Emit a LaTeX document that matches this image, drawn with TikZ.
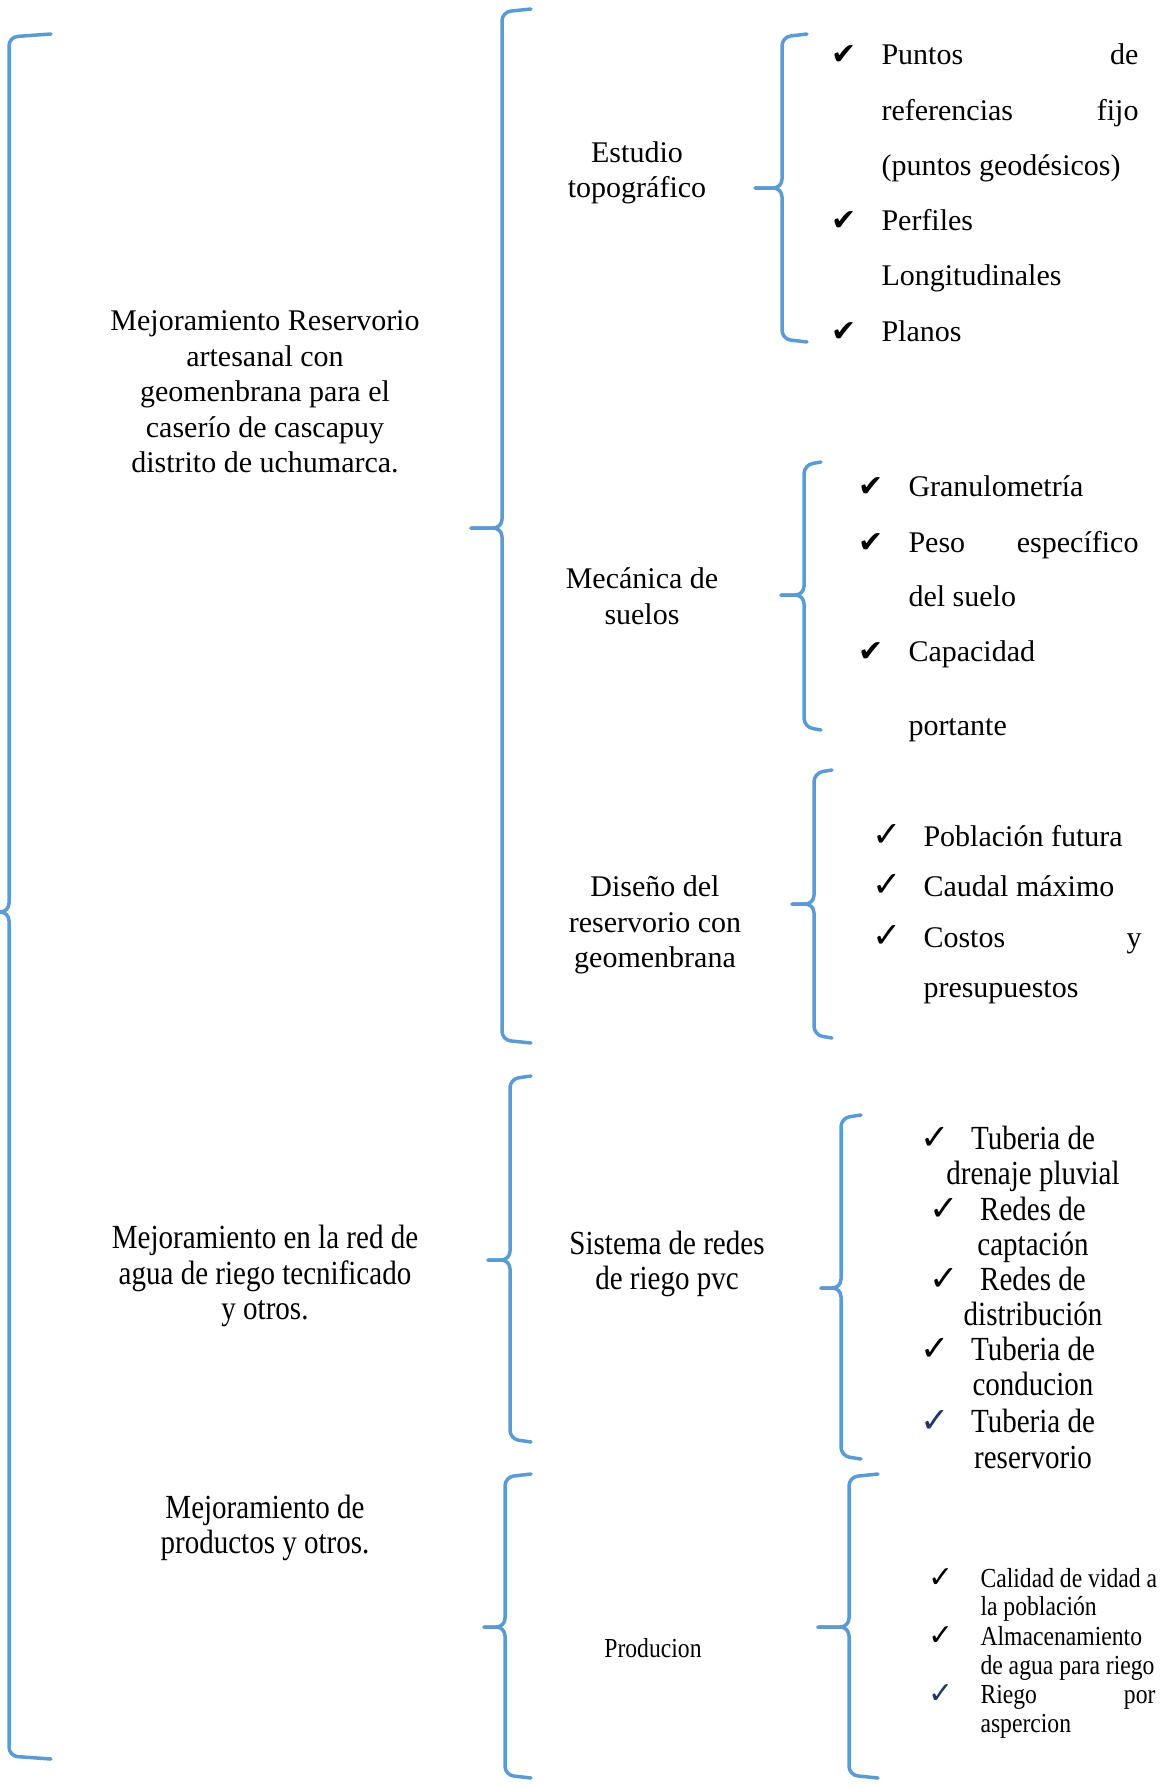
\documentclass[tikz,border=0pt]{standalone}
\usepackage{fontspec}
\setmainfont{Liberation Serif}
\newfontfamily\narrowfont[FakeStretch=0.86]{Liberation Serif}
\newfontfamily\symfont{DejaVu Sans}
\definecolor{braceblue}{HTML}{5B9BD5}
\definecolor{navy}{HTML}{1F3864}
\tikzset{
  bracest/.style={draw=braceblue, line width=1.4pt, rounded corners=3.5pt, line cap=round},
  txt/.style={inner sep=0pt, align=center, font=\fontsize{12}{14.2}\selectfont},
  ntxt/.style={inner sep=0pt, align=center, font=\narrowfont\fontsize{13.5}{14.2}\selectfont},
  stxt/.style={inner sep=0pt, align=center, font=\narrowfont\fontsize{11}{11.6}\selectfont},
  item/.style={inner sep=0pt, anchor=base west, font=\fontsize{12}{14.2}\selectfont},
  sitem/.style={inner sep=0pt, anchor=base west, font=\narrowfont\fontsize{11}{11.6}\selectfont},
  nitem/.style={inner sep=0pt, anchor=base, font=\narrowfont\fontsize{13.5}{14.2}\selectfont},
  hchk/.style={inner sep=0pt, anchor=base, font=\symfont\fontsize{12}{12}\selectfont},
  chk/.style={inner sep=0pt, anchor=base, font=\symfont\fontsize{14}{14}\selectfont},
  schk/.style={inner sep=0pt, anchor=base, font=\symfont\fontsize{12}{12}\selectfont},
}
% #1 vertical x, #2 top y, #3 arm end x, #4 tip y, #5 tip x, #6 bottom y
\newcommand\mybrace[6]{%
  \draw[bracest] (#3,#2) -- (#1,#2+3) -- (#1,#4) -- (#5,#4);
  \draw[bracest] (#5,#4) -- (#1,#4) -- (#1,#6-3) -- (#3,#6);
}
\begin{document}
\begin{tikzpicture}[x=0.4pt,y=-0.4pt]
\useasboundingbox (0,0) rectangle (1173,1787);

% ---------- braces ----------
\mybrace{9}{34}{51}{912}{0}{1759}
\mybrace{502}{9}{531}{528}{471}{1043}
\mybrace{510}{1076}{531}{1260}{488}{1442}
\mybrace{505}{1474}{531}{1627}{484}{1778}
\mybrace{782}{34}{807}{188}{755}{342}
\mybrace{804}{462}{821}{595}{781}{730}
\mybrace{814}{770}{832}{904}{792}{1038}
\mybrace{841}{1115}{861}{1288}{821}{1459}
\mybrace{849}{1474}{878}{1627}{818}{1778}

% ---------- left column ----------
\node[txt] (m1) at (265,392) {Mejoramiento Reservorio\\artesanal con\\geomenbrana para el\\caserío de cascapuy\\distrito de uchumarca.};
\node[ntxt] (m2) at (265,1276) {Mejoramiento en la red de\\agua de riego tecnificado\\y otros.};
\node[ntxt] (m3) at (265,1528) {Mejoramiento de\\productos y otros.};

% ---------- middle column ----------
\node[txt] (e1) at (637,173) {Estudio\\topográfico};
\node[txt] (e2) at (642,596) {Mecánica de\\suelos};
\node[txt] (e3) at (655,925) {Diseño del\\reservorio con\\geomenbrana};
\node[ntxt] (e4) at (667,1264) {Sistema de redes\\de riego pvc};
\node[stxt] (e5) at (653,1648) {Producion};

% ---------- Estudio topografico ----------
\node[hchk] (c11) at (844,64) {✔};
\node[item] (t11) at (881,64) {\hbox to 102.8pt{Puntos\hfill de}};
\node[item] (t12) at (881,120) {\hbox to 102.8pt{referencias\hfill fijo}};
\node[item] (t13) at (881,175) {(puntos geodésicos)};
\node[hchk] (c12) at (844,230) {✔};
\node[item] (t14) at (881,230) {Perfiles};
\node[item] (t15) at (881,285) {Longitudinales};
\node[hchk] (c13) at (844,341) {✔};
\node[item] (t16) at (881,341) {Planos};

% ---------- Mecanica de suelos ----------
\node[hchk] (c21) at (871,496) {✔};
\node[item] (t21) at (908,496) {Granulometría};
\node[hchk] (c22) at (871,552) {✔};
\node[item] (t22) at (908,552) {\hbox to 92pt{Peso\hfill específico}};
\node[item] (t23) at (908,606) {del suelo};
\node[hchk] (c23) at (871,661) {✔};
\node[item] (t24) at (908,661) {Capacidad};
\node[item] (t25) at (908,735) {portante};

% ---------- Diseno del reservorio ----------
\node[chk] (c31) at (887,846) {✓};
\node[item] (t31) at (923,846) {Población futura};
\node[chk] (c32) at (887,896) {✓};
\node[item] (t32) at (923,896) {Caudal máximo};
\node[chk] (c33) at (887,947) {✓};
\node[item] (t33) at (923,947) {\hbox to 87.2pt{Costos\hfill y}};
\node[item] (t34) at (923,997) {presupuestos};

% ---------- Sistema de redes ----------
\node[chk] (c41) at (935,1149) {✓};
\node[nitem] (t41) at (1033,1149) {Tuberia de};
\node[nitem] (t42) at (1033,1184) {drenaje pluvial};
\node[chk] (c42) at (944,1220) {✓};
\node[nitem] (t43) at (1033,1220) {Redes de};
\node[nitem] (t44) at (1033,1255) {captación};
\node[chk] (c43) at (944,1290) {✓};
\node[nitem] (t45) at (1033,1290) {Redes de};
\node[nitem] (t46) at (1033,1325) {distribución};
\node[chk] (c44) at (935,1360) {✓};
\node[nitem] (t47) at (1033,1360) {Tuberia de};
\node[nitem] (t48) at (1033,1395) {conducion};
\node[chk, text=navy] (c45) at (935,1432) {✓};
\node[nitem] (t49) at (1033,1432) {Tuberia de};
\node[nitem] (t410) at (1033,1468) {reservorio};

% ---------- Producion ----------
\node[schk] (c51) at (941,1587) {✓};
\node[sitem] (t51) at (980,1587) {Calidad de vidad a};
\node[sitem] (t52) at (980,1615) {la población};
\node[schk] (c52) at (941,1645) {✓};
\node[sitem] (t53) at (980,1645) {Almacenamiento};
\node[sitem] (t54) at (980,1674) {de agua para riego};
\node[schk, text=navy] (c53) at (941,1703) {✓};
\node[sitem] (t55) at (980,1703) {\hbox to 70pt{Riego\hfill por}};
\node[sitem] (t56) at (980,1732) {aspercion};
\end{tikzpicture}
\end{document}
